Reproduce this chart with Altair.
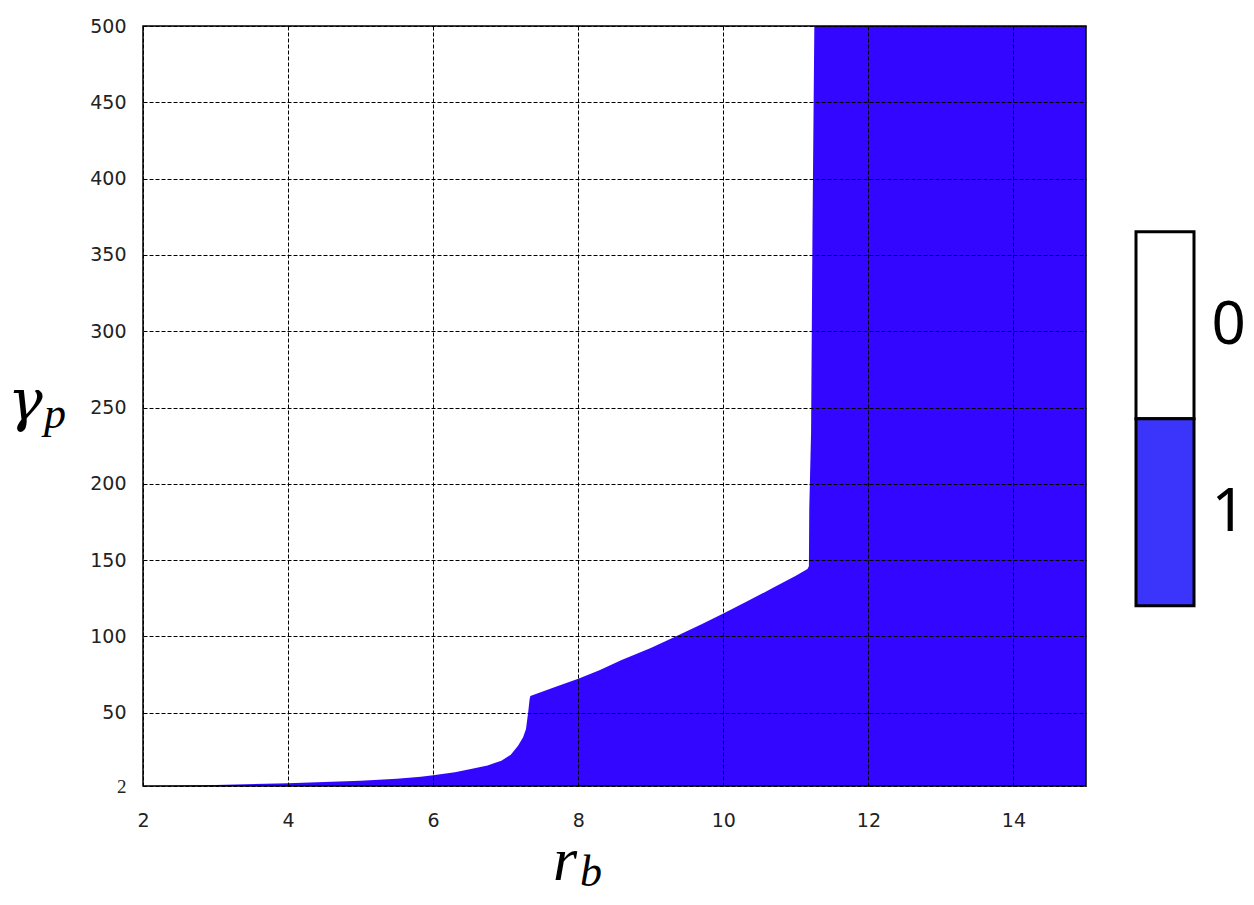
import altair as alt
import pandas as pd

# Boundary between phase 0 (white, above) and phase 1 (blue, below)
rb = [2.0, 3.0, 4.0, 5.0, 5.5, 5.83, 6.0, 6.3, 6.52, 6.75, 6.94, 7.07, 7.17, 7.24,
      7.28, 7.31, 7.33, 7.34, 7.7, 8.01, 8.3, 8.59, 9.0, 9.35, 9.7, 10.0, 10.33,
      10.66, 11.0, 11.16, 11.18, 11.185, 11.21, 11.23, 11.255, 15.0]
gamma = [2.0, 2.6, 3.8, 5.5, 6.7, 8.0, 9.0, 11.0, 13.1, 15.5, 18.6, 22.5, 28.4, 34.0,
         39.4, 50.3, 59.0, 61.0, 67.2, 72.4, 78.0, 84.4, 92.5, 100.1, 108.0, 115.1,
         123.0, 131.2, 139.8, 144.2, 146.0, 184.0, 234.0, 370.0, 500.0, 500.0]
floor = [2.0] * len(rb)

x_domain = [2, 15]
y_domain = [2, 500]
x_ticks = [2, 4, 6, 8, 10, 12, 14]
y_ticks = [2, 50, 100, 150, 200, 250, 300, 350, 400, 450, 500]

legend_labels = ["0", "1"]
legend_lo = [1, 0]
legend_hi = [2, 1]
legend_x0 = [0, 0]
legend_x1 = [1, 1]
legend_colors = ["#ffffff", "#3b35fb"]

W, H = 943, 760

df = pd.DataFrame({"rb": rb, "gamma": gamma, "floor": floor})
frame_df = pd.DataFrame({"x0": [x_domain[0]], "x1": [x_domain[1]],
                         "y0": [y_domain[0]], "y1": [y_domain[1]]})

xs = alt.Scale(domain=x_domain, nice=False, zero=False)
ys = alt.Scale(domain=y_domain, nice=False, zero=False)

x_axis = alt.Axis(values=x_ticks, format="d", title=None, grid=True, gridColor="black",
                  gridDash=[4, 2], gridWidth=1, ticks=False, domain=False,
                  labelPadding=25, labelFontSize=19, labelFont="DejaVu Sans",
                  labelColor="#222222", labelFlush=False, zindex=1)
y_axis = alt.Axis(values=y_ticks, format="d", title=None, grid=True, gridColor="black",
                  gridDash=[4, 2], gridWidth=1, ticks=False, domain=False,
                  labelPadding=17, labelFontSize=19,
                  labelFont={"condition": {"test": "datum.value == 2", "value": "Liberation Serif"},
                             "value": "DejaVu Sans"},
                  labelColor="#222222", labelFlush=False, zindex=1)

area = alt.Chart(df).mark_area(color="#3306ff", interpolate="linear", clip=True).encode(
    x=alt.X("rb:Q", scale=xs, axis=x_axis),
    y=alt.Y("gamma:Q", scale=ys, axis=y_axis),
    y2="floor:Q",
)

frame = alt.Chart(frame_df).mark_rect(fillOpacity=0, stroke="black", strokeWidth=1.5).encode(
    x="x0:Q", x2="x1:Q", y="y0:Q", y2="y1:Q"
)

def label(txt, px, py, size, font="Liberation Serif"):
    return alt.Chart(pd.DataFrame({"t": [txt]})).mark_text(
        font=font, fontStyle="italic", fontSize=size,
        align="left", baseline="alphabetic", color="black"
    ).encode(x=alt.value(px), y=alt.value(py), text="t:N")

main = alt.layer(
    area, frame,
    label("γ", -135, 394, 58, "DejaVu Serif"),
    label("p", -99, 402, 44),
    label("r", 410, 854, 62),
    label("b", 437, 860, 44),
).properties(width=W, height=H)

leg_df = pd.DataFrame({"label": legend_labels, "lo": legend_lo, "hi": legend_hi,
                       "x0": legend_x0, "x1": legend_x1})
legend = alt.Chart(leg_df).mark_rect(stroke="black", strokeWidth=3).encode(
    x=alt.X("x0:Q", scale=alt.Scale(domain=[0, 1], nice=False), axis=None),
    x2="x1:Q",
    y=alt.Y("lo:Q", scale=alt.Scale(domain=[-0.963, 3.10], nice=False, zero=False),
            axis=alt.Axis(orient="right", values=[0.5, 1.5], title=None, grid=False,
                          ticks=False, domain=False, labelPadding=17,
                          labelExpr="datum.value > 1 ? '0' : '1'",
                          labelFont="Noto Sans", labelFontSize=60,
                          labelColor="black")),
    y2="hi:Q",
    color=alt.Color("label:N", scale=alt.Scale(domain=legend_labels, range=legend_colors),
                    legend=None),
).properties(width=58, height=H)

chart = alt.hconcat(main, legend, spacing=47).properties(
    padding={"left": 0, "top": 9, "right": 0, "bottom": 0},
    background="white",
).configure_view(stroke="transparent", strokeWidth=0)

chart.save("out.html", embed_options={"renderer": "svg", "actions": False})
